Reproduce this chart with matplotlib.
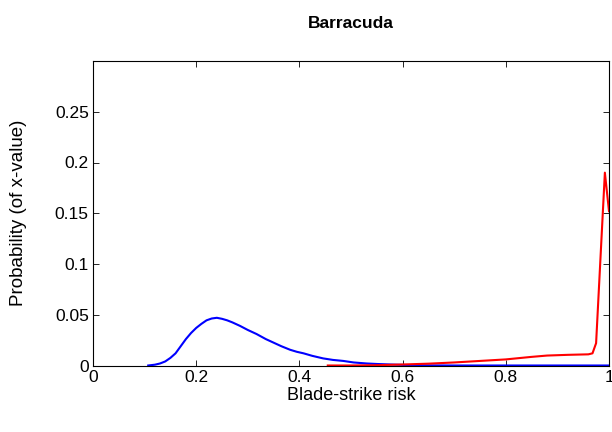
import matplotlib.pyplot as plt
import numpy as np

plt.rcParams["font.family"] = ["Liberation Sans", "DejaVu Sans"]

# Blue curve (distribution peaking near 0.24)
blue_x = [0.107, 0.12, 0.13, 0.14, 0.15, 0.16, 0.17, 0.18, 0.19, 0.20,
          0.21, 0.22, 0.23, 0.24, 0.25, 0.26, 0.27, 0.285, 0.30, 0.317,
          0.335, 0.35, 0.365, 0.382, 0.395, 0.408, 0.425, 0.446, 0.465, 0.485,
          0.505, 0.53, 0.55, 0.576, 0.60, 0.62, 0.65, 0.70, 0.80, 0.90, 1.0]
blue_y = [0.0, 0.0008, 0.002, 0.004, 0.0075, 0.012, 0.019, 0.026, 0.032, 0.037,
          0.041, 0.0445, 0.0463, 0.047, 0.046, 0.0445, 0.0425, 0.039, 0.035, 0.031,
          0.026, 0.0225, 0.019, 0.0155, 0.0135, 0.012, 0.0095, 0.007, 0.0055, 0.0045,
          0.003, 0.002, 0.0015, 0.001, 0.0006, 0.0003, 0.0001, 0.0, 0.0, 0.0, 0.0]

# Red curve (spike near 1)
red_x = [0.455, 0.50, 0.55, 0.60, 0.65, 0.70, 0.75, 0.80, 0.85, 0.88,
         0.92, 0.96, 0.968, 0.975, 0.992, 1.0]
red_y = [0.0, 0.0, 0.0003, 0.001, 0.0018, 0.003, 0.0045, 0.006, 0.0085, 0.0098,
         0.0105, 0.011, 0.012, 0.022, 0.19, 0.152]

x_ticks = [0, 0.2, 0.4, 0.6, 0.8, 1]
x_labels = ["0", "0.2", "0.4", "0.6", "0.8", "1"]
y_ticks = [0, 0.05, 0.1, 0.15, 0.2, 0.25]
y_labels = ["0", "0.05", "0.1", "0.15", "0.2", "0.25"]

fig = plt.figure(figsize=(6.12, 4.32), dpi=100)
ax = fig.add_axes([93 / 612, (432 - 365.5) / 432, 516 / 612, 304.5 / 432])

ax.plot(blue_x, blue_y, color="#0000ff", lw=1.5)
ax.plot(red_x, red_y, color="#ff0000", lw=1.5)

ax.set_xlim(0, 1)
ax.set_ylim(0, 0.3)
ax.set_xticks(x_ticks)
ax.set_xticklabels(x_labels)
ax.set_yticks(y_ticks)
ax.set_yticklabels(y_labels)
ax.tick_params(direction="in", top=True, right=True, length=4, width=0.6,
               labelsize=12.5, pad=3)
for s in ax.spines.values():
    s.set_linewidth(0.8)

ax.set_title("Barracuda", fontsize=12.5, fontweight="bold", pad=24)
ax.set_xlabel("Blade-strike risk", fontsize=13)
ax.set_ylabel("Probability (of x-value)", fontsize=13.5)
ax.xaxis.set_label_coords(0.5, -0.097, transform=ax.transAxes)
ax.yaxis.set_label_coords(-0.145, 0.5, transform=ax.transAxes)
ax.xaxis.label.set_va("center")
ax.yaxis.label.set_va("center")

fig.savefig("out.png", dpi=100)
